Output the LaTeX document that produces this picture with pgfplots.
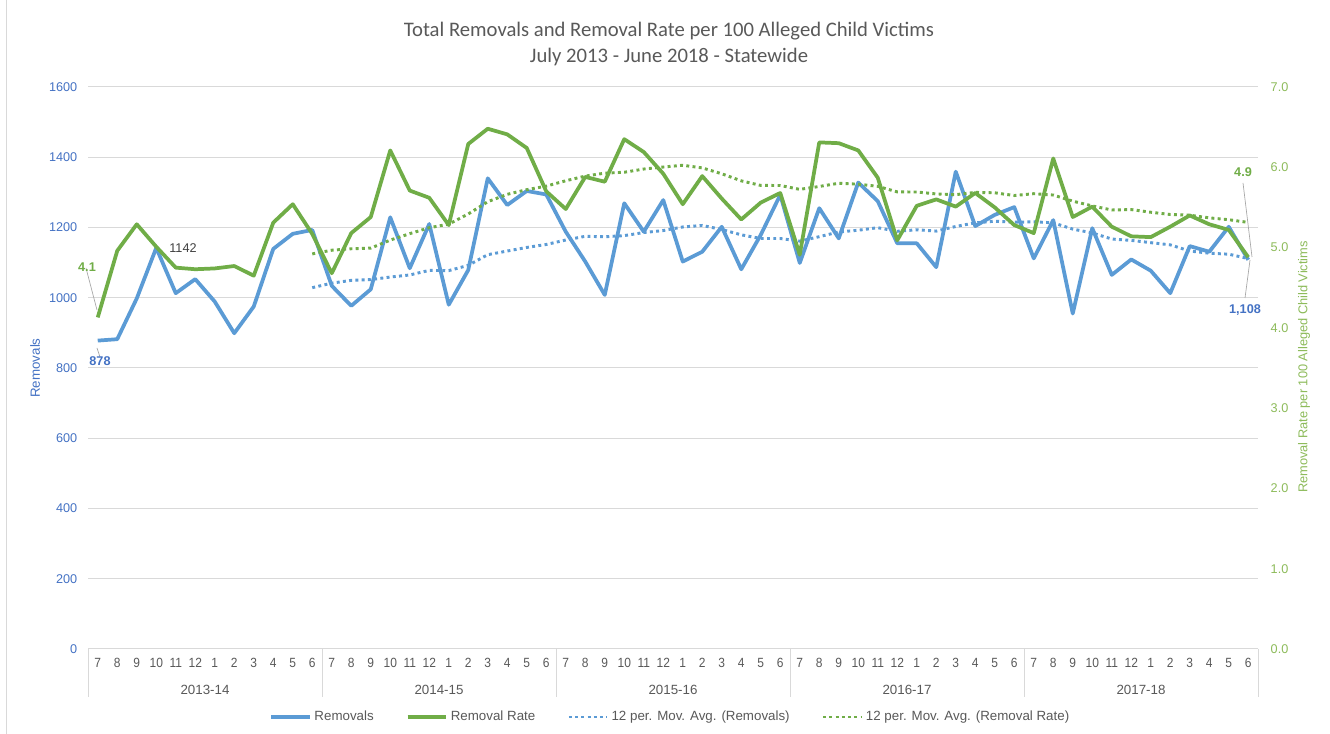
\documentclass[border=0pt]{standalone}
\usepackage{pgfplots}
\usepackage{pgfplotstable}
\pgfplotsset{compat=1.18}
\usepackage{fontspec}
\setmainfont{Liberation Sans}
\newfontfamily\calibri{Carlito}
\definecolor{cblue}{HTML}{5B9BD5}
\definecolor{cgreen}{HTML}{70AD47}
\definecolor{lblue}{HTML}{4472C4}
\definecolor{lgreen}{HTML}{8DBB5A}
\definecolor{gridc}{HTML}{D9D9D9}
\definecolor{txt}{HTML}{595959}

\pgfplotstableread{
x rem rate
0 878 4.13
1 882 4.96
2 998 5.29
3 1142 5.01
4 1013 4.75
5 1053 4.73
6 989 4.74
7 899 4.77
8 975 4.65
9 1139 5.31
10 1182 5.54
11 1193 5.17
12 1034 4.68
13 977 5.18
14 1024 5.38
15 1229 6.21
16 1084 5.71
17 1210 5.62
18 980 5.28
19 1079 6.29
20 1340 6.48
21 1264 6.41
22 1304 6.24
23 1294 5.70
24 1188 5.48
25 1103 5.88
26 1008 5.82
27 1269 6.35
28 1188 6.19
29 1278 5.92
30 1103 5.54
31 1131 5.89
32 1202 5.61
33 1081 5.35
34 1179 5.56
35 1293 5.68
36 1099 4.91
37 1255 6.31
38 1169 6.30
39 1328 6.21
40 1275 5.87
41 1155 5.09
42 1155 5.52
43 1087 5.60
44 1359 5.51
45 1204 5.68
46 1236 5.50
47 1258 5.28
48 1112 5.18
49 1221 6.11
50 955 5.38
51 1198 5.51
52 1065 5.26
53 1109 5.14
54 1077 5.13
55 1013 5.26
56 1147 5.40
57 1131 5.29
58 1202 5.22
59 1108 4.88
}\maindata

\pgfplotstableread{
x marem marate
11 1028.6 4.921
12 1041.6 4.967
13 1049.5 4.985
14 1051.7 4.993
15 1058.9 5.093
16 1064.8 5.173
17 1077.9 5.247
18 1077.2 5.292
19 1092.2 5.418
20 1122.6 5.571
21 1133.0 5.663
22 1143.2 5.721
23 1151.6 5.765
24 1164.4 5.832
25 1174.9 5.890
26 1173.6 5.927
27 1176.9 5.938
28 1185.6 5.978
29 1191.3 6.003
30 1201.5 6.025
31 1205.8 5.992
32 1194.3 5.919
33 1179.1 5.831
34 1168.7 5.774
35 1168.6 5.773
36 1161.2 5.725
37 1173.8 5.761
38 1187.3 5.801
39 1192.2 5.789
40 1199.4 5.763
41 1189.2 5.693
42 1193.5 5.692
43 1189.8 5.668
44 1202.9 5.659
45 1213.2 5.687
46 1217.9 5.682
47 1215.0 5.648
48 1216.1 5.671
49 1213.3 5.654
50 1195.4 5.578
51 1184.6 5.519
52 1167.1 5.468
53 1163.3 5.473
54 1156.8 5.440
55 1150.6 5.412
56 1132.9 5.403
57 1126.8 5.370
58 1124.0 5.347
59 1111.5 5.313
}\madata

\begin{document}
\begin{tikzpicture}[x=0.75pt,y=0.75pt]
\path[use as bounding box, fill=white] (0,0) rectangle (1330,734);
\draw[gridc, line width=0.75pt] (6.5,0) -- (6.5,734);
\begin{axis}[
  at={(66pt,63.75pt)}, anchor=south west, scale only axis,
  width=877.5pt, height=421.5pt,
  xmin=-0.5, xmax=59.5, ymin=0, ymax=1600,
  ytick={0,200,...,1600},
  xtick={0,...,59},
  xticklabels={7,8,9,10,11,12,1,2,3,4,5,6,7,8,9,10,11,12,1,2,3,4,5,6,7,8,9,10,11,12,1,2,3,4,5,6,7,8,9,10,11,12,1,2,3,4,5,6,7,8,9,10,11,12,1,2,3,4,5,6},
  ymajorgrids, grid style={color=gridc, line width=0.75pt},
  axis line style={draw=none},
  major tick length=0pt,
  /pgf/number format/assume math mode=true,
  /pgf/number format/1000 sep={},
  yticklabel style={font=\fontsize{9.5}{11}\selectfont, color=lblue, xshift=-4.5pt},
  xticklabel style={font=\fontsize{10}{12}\selectfont, color=txt, yshift=-3.5pt, xscale=0.9},
  legend columns=4,
  legend style={at={(0.498,-0.121)}, anchor=center, draw=none, fill=none,
    font=\fontsize{10}{12}\selectfont, text=txt, inner sep=0pt,
    /tikz/every even column/.append style={column sep=22pt}},
  legend cell align=left,
  legend image code/.code={\draw[#1] (0pt,0pt) -- (29pt,0pt);},
]
\addplot[cblue, line width=2.8pt, line join=round] table[x=x,y=rem]{\maindata};
\addlegendentry{Removals}
\addlegendimage{cgreen, line width=2.8pt}
\addlegendentry{Removal Rate}
\addplot[cblue, line width=2.2pt, dash pattern=on 2.2pt off 2.5pt] table[x=x,y=marem]{\madata};
\addlegendentry{12 per. Mov. Avg. (Removals)}
\addlegendimage{cgreen, line width=2.2pt, dash pattern=on 2.2pt off 2.5pt}
\addlegendentry{12 per. Mov. Avg. (Removal Rate)}
\end{axis}
\begin{axis}[
  at={(66pt,63.75pt)}, anchor=south west, scale only axis,
  width=877.5pt, height=421.5pt,
  xmin=-0.5, xmax=59.5, ymin=0, ymax=7,
  ytick={0,1,...,7},
  axis x line=none, axis y line*=right,
  axis line style={draw=none},
  major tick length=0pt,
  /pgf/number format/assume math mode=true,
  /pgf/number format/.cd, fixed, fixed zerofill, precision=1, /pgfplots/.cd,
  yticklabel style={font=\fontsize{9.5}{11}\selectfont, color=lgreen, xshift=6pt},
]
\addplot[cgreen, line width=2.8pt, line join=round] table[x=x,y=rate]{\maindata};
\addplot[cgreen, line width=2.2pt, dash pattern=on 2.2pt off 2.5pt] table[x=x,y=marate]{\madata};
\end{axis}
% title
\node[font=\calibri\fontsize{15.5}{18}\selectfont, text=txt] at (669,703) {Total Removals and Removal Rate per 100 Alleged Child Victims};
\node[font=\calibri\fontsize{15.5}{18}\selectfont, text=txt] at (669,677) {July 2013 - June 2018 - Statewide};
% axis titles
\node[rotate=90, font=\fontsize{10}{12}\selectfont, text=lblue] at (35,366) {Removals};
\node[rotate=90, font=\fontsize{9.6}{12}\selectfont, text=lgreen] at (1304,367) {Removal Rate per 100 Alleged Child Victims};
% category groups
\foreach \xx in {88,322,556,790,1024,1258} {\draw[gridc, line width=0.75pt] (\xx,85) -- (\xx,37);}
\foreach \xx/\lab in {205/2013-14,439/2014-15,673/2015-16,907/2016-17,1141/2017-18}
  {\node[font=\fontsize{10}{12}\selectfont, text=txt] at (\xx,44) {\lab};}
% data labels
\draw[gray!70, line width=0.5pt] (97,386) -- (100,377);
\node[font=\bfseries\fontsize{9.5}{11}\selectfont, text=lblue] at (100,373) {878};
\draw[gray!70, line width=0.5pt] (86,466) -- (97,424);
\node[font=\bfseries\fontsize{9.5}{11}\selectfont, text=cgreen] at (87,467) {4.1};
\node[font=\fontsize{9.5}{11}\selectfont, text=black!75] at (183,486) {1142};
\draw[gray!70, line width=0.5pt] (1243,551) -- (1252,477);
\node[font=\bfseries\fontsize{9.5}{11}\selectfont, text=cgreen] at (1243,562) {4.9};
\draw[gray!70, line width=0.5pt] (1245,436) -- (1250,474);
\node[font=\bfseries\fontsize{9.5}{11}\selectfont, text=lblue] at (1245,424) {1,108};
\end{tikzpicture}
\end{document}
